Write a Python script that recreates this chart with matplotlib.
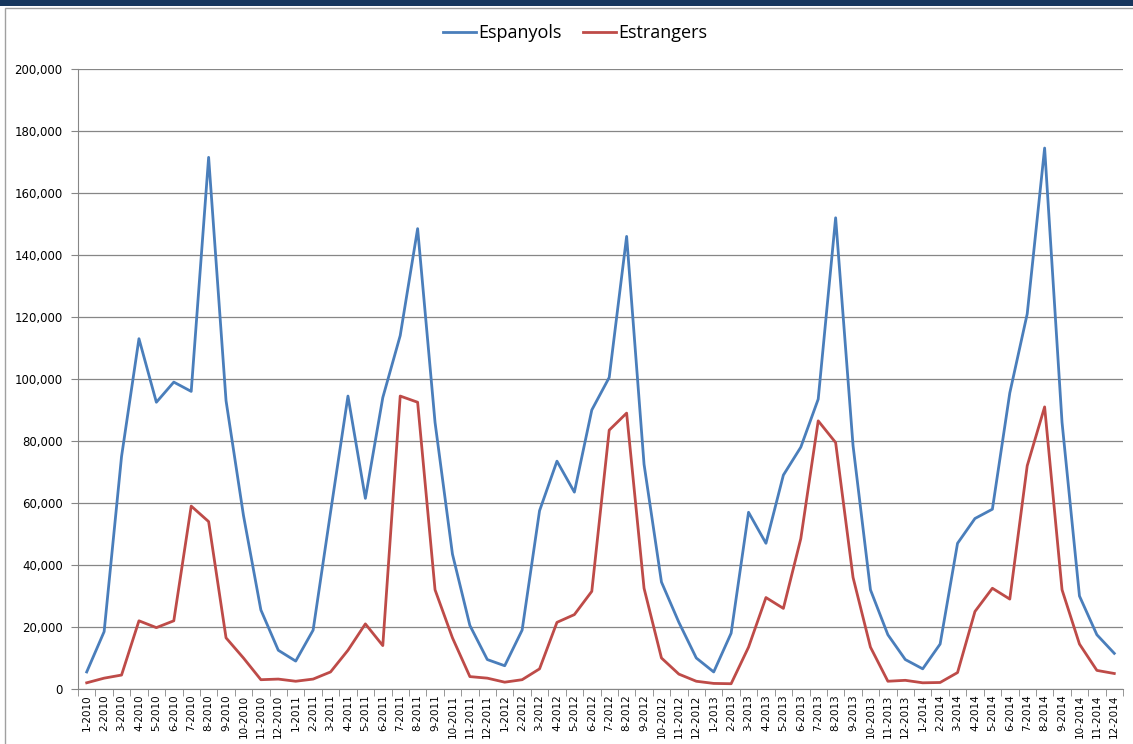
import matplotlib
import matplotlib.pyplot as plt
import numpy as np
from matplotlib.patches import Rectangle
from matplotlib.ticker import FuncFormatter, FixedLocator

matplotlib.use("Agg")

months = [f"{m}-{y}" for y in range(2010, 2015) for m in range(1, 13)]

espanyols = [
    5500, 18500, 75000, 113000, 92500, 99000, 96000, 171500, 93000, 56000, 25500, 12500,
    9000, 19000, 57000, 94500, 61500, 94000, 114000, 148500, 86000, 43500, 20500, 9500,
    7500, 19000, 57500, 73500, 63500, 90000, 100500, 146000, 72500, 34500, 21500, 10000,
    5500, 18000, 57000, 47000, 69000, 78000, 93500, 152000, 78500, 32000, 17500, 9500,
    6500, 14500, 47000, 55000, 58000, 95500, 121000, 174500, 86000, 30000, 17500, 11500,
]
estrangers = [
    2000, 3500, 4500, 22000, 19800, 22000, 59000, 54000, 16500, 10000, 3000, 3200,
    2500, 3200, 5500, 12500, 21000, 14000, 94500, 92500, 32000, 16500, 4000, 3500,
    2200, 3000, 6500, 21500, 24000, 31500, 83500, 89000, 32500, 10000, 4800, 2500,
    1800, 1700, 13500, 29500, 26000, 48500, 86500, 79500, 36000, 13500, 2500, 2800,
    2000, 2100, 5300, 25000, 32500, 29000, 72000, 91000, 32000, 14500, 6000, 5000,
]

fig = plt.figure(figsize=(11.33, 7.44), dpi=100)
W, H = 1133, 744

# dark title band (text is cut off in the source) and chart frame
fig.patches.append(Rectangle((0, 1 - 6 / H), 1, 6 / H, transform=fig.transFigure,
                             facecolor="#17375E", edgecolor="none"))
fig.patches.append(Rectangle((5 / W, -0.01), 1.0, 1 - 8 / H + 0.01, transform=fig.transFigure,
                             facecolor="none", edgecolor="#A0A0A0", linewidth=1.0))

ax = fig.add_axes([78 / W, 1 - 689 / H, (1123 - 78) / W, (689 - 69) / H])
x = np.arange(len(months))

ax.plot(x, espanyols, color="#4A7EBB", linewidth=2.0, label="Espanyols")
ax.plot(x, estrangers, color="#BE4B48", linewidth=2.0, label="Estrangers")

ax.set_xlim(-0.5, len(months) - 0.5)
ax.set_ylim(0, 200000)
ax.set_yticks(np.arange(0, 200001, 20000))
ax.yaxis.set_major_formatter(FuncFormatter(lambda v, p: f"{int(v):,}"))
ax.grid(axis="y", color="#868686", linewidth=0.9)
ax.set_axisbelow(True)

ax.set_xticks(x)
ax.set_xticklabels(months, rotation=90, fontsize=7.5, family="Liberation Sans Narrow")
ax.xaxis.set_minor_locator(FixedLocator(np.arange(-0.5, len(months), 1.0)))
ax.tick_params(axis="x", which="major", length=0, pad=4)
ax.tick_params(axis="x", which="minor", length=5, color="#868686")
ax.tick_params(axis="y", length=5, color="#868686", labelsize=8.5, pad=6)
for lab in ax.get_yticklabels():
    lab.set_family("DejaVu Sans")

for side in ("top", "right"):
    ax.spines[side].set_visible(False)
ax.spines["left"].set_color("#868686")
ax.spines["bottom"].set_color("#868686")

ax.legend(loc="center", bbox_to_anchor=(0.476, 1 + 36 / 620), ncol=2, frameon=False,
          prop={"family": "Open Sans", "size": 13}, handlelength=1.8,
          handletextpad=0.15, columnspacing=1.2, borderaxespad=0)

fig.savefig("out.png", dpi=100)
